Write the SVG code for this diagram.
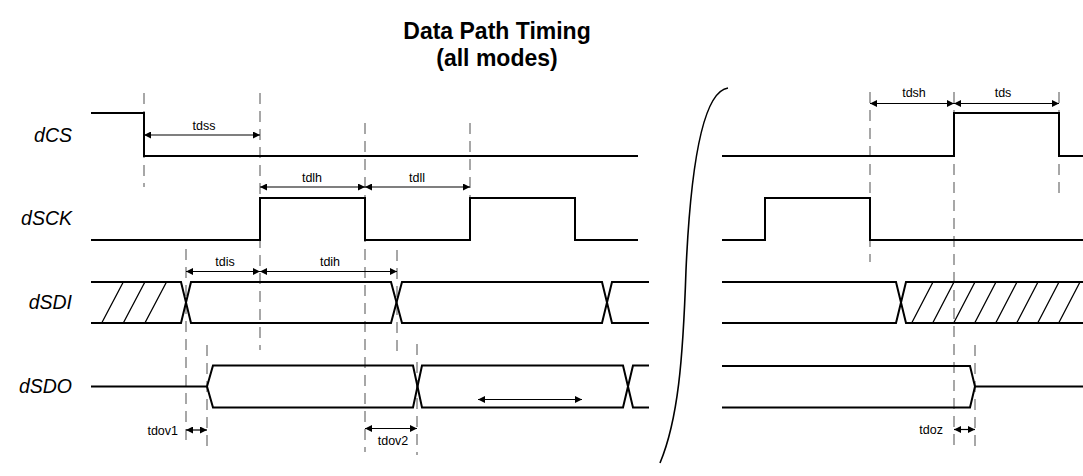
<svg xmlns="http://www.w3.org/2000/svg" width="1083" height="476" viewBox="0 0 1083 476">
<style>
.sig{fill:none;stroke:#000;stroke-width:2;stroke-linejoin:miter}
.hat{fill:none;stroke:#000;stroke-width:1.3}
.dash{fill:none;stroke:#8a8a8a;stroke-width:1.5;stroke-dasharray:11 7}
.arr{fill:none;stroke:#000;stroke-width:1.2;marker-start:url(#ah);marker-end:url(#ah)}
.name{font-family:"Liberation Sans",Arial,sans-serif;font-style:italic;font-size:19.5px;fill:#000;text-anchor:end}
.lab{font-family:"Liberation Sans",Arial,sans-serif;font-size:12.5px;fill:#000;text-anchor:middle}
.title{font-family:"Liberation Sans",Arial,sans-serif;font-weight:bold;font-size:23px;fill:#000;text-anchor:middle}
</style>
<defs>
<marker id="ah" viewBox="0 0 10 10" refX="10" refY="5" markerWidth="7" markerHeight="7" markerUnits="userSpaceOnUse" orient="auto-start-reverse">
<path d="M0,0 L10,5 L0,10 Z" fill="#000"/>
</marker>
</defs>
<rect width="1083" height="476" fill="#fff"/>
<g id="title">
<text class="title" x="497" y="39">Data Path Timing</text>
<text class="title" x="497" y="66">(all modes)</text>
</g>
<g id="names">
<text class="name" x="72" y="142">dCS</text>
<text class="name" x="72" y="225">dSCK</text>
<text class="name" x="72" y="309">dSDI</text>
<text class="name" x="72" y="393">dSDO</text>
</g>
<g id="guides">
<line class="dash" x1="144" y1="93" x2="144" y2="187"/>
<line class="dash" x1="260" y1="93" x2="260" y2="350"/>
<line class="dash" x1="186" y1="249" x2="186" y2="443"/>
<line class="dash" x1="207" y1="345" x2="207" y2="452"/>
<line class="dash" x1="365" y1="123" x2="365" y2="452"/>
<line class="dash" x1="397" y1="250" x2="397" y2="357"/>
<line class="dash" x1="417" y1="344" x2="417" y2="455"/>
<line class="dash" x1="470" y1="123" x2="470" y2="240"/>
<line class="dash" x1="870" y1="92" x2="870" y2="262"/>
<line class="dash" x1="954" y1="92" x2="954" y2="450"/>
<line class="dash" x1="1059" y1="92" x2="1059" y2="198"/>
<line class="dash" x1="975" y1="345" x2="975" y2="452"/>
</g>
<g id="dCS">
<path class="sig" d="M91,113 H144 V156 H638"/>
<path class="sig" d="M722,156 H954 V113 H1059 V156 H1083"/>
</g>
<g id="dSCK">
<path class="sig" d="M91,240 H260 V198 H365 V240 H470 V198 H575 V240 H638"/>
<path class="sig" d="M722,240 H765 V198 H870 V240 H1083"/>
</g>
<g id="dSDI">
<path class="sig" d="M91,282 H181 L191,323 H391 L402,282 H602 L612,323 H649"/>
<path class="sig" d="M91,323 H181 L191,282 H391 L402,323 H602 L612,282 H649"/>
<path class="hat" d="M101.7,323 L123.3,282 M123.3,323 L144.9,282 M144.9,323 L166.5,282"/>
<path class="sig" d="M722,282 H896 L906,323 H1083"/>
<path class="sig" d="M722,323 H896 L906,282 H1083"/>
<path class="hat" d="M911.7,323 L933,282 M932.7,323 L954,282 M953.7,323 L975,282 M974.7,323 L996,282 M995.7,323 L1017,282 M1016.7,323 L1038,282 M1037.7,323 L1059,282 M1058.7,323 L1080,282"/>
</g>
<g id="dSDO">
<path class="sig" d="M91,386.5 H207 L213,365.5 H413 L422,407.5 H623 L633,365.5 H649"/>
<path class="sig" d="M207,386.5 L213,407.5 H413 L422,365.5 H623 L633,407.5 H649"/>
<path class="sig" d="M722,366 H970 L975,386.5 L970,407.5 H722"/>
<path class="sig" d="M975,386.5 H1083"/>
</g>
<g id="break">
<path class="sig" style="stroke-width:1.6" d="M728,88 C700,92 690,180 686,270 C683,360 678,420 660,463"/>
</g>
<g id="connectors">
<line class="arr" x1="144" y1="135" x2="260" y2="135"/>
<line class="arr" x1="260" y1="187" x2="365" y2="187"/>
<line class="arr" x1="365" y1="187" x2="470" y2="187"/>
<line class="arr" x1="186" y1="271.5" x2="260" y2="271.5"/>
<line class="arr" x1="260" y1="271.5" x2="397" y2="271.5"/>
<line class="arr" x1="478" y1="399.5" x2="582" y2="399.5"/>
<line class="arr" x1="186" y1="430" x2="207" y2="430"/>
<line class="arr" x1="365" y1="428.5" x2="417" y2="428.5"/>
<line class="arr" x1="870" y1="103.5" x2="954" y2="103.5"/>
<line class="arr" x1="954" y1="103.5" x2="1059" y2="103.5"/>
<line class="arr" x1="954" y1="429.5" x2="975" y2="429.5"/>
</g>
<g id="labels">
<text class="lab" x="204" y="130">tdss</text>
<text class="lab" x="312" y="182">tdlh</text>
<text class="lab" x="417" y="182">tdll</text>
<text class="lab" x="225" y="266">tdis</text>
<text class="lab" x="330" y="266">tdih</text>
<text class="lab" x="914" y="97">tdsh</text>
<text class="lab" x="1003" y="97">tds</text>
<text class="lab" x="393" y="445">tdov2</text>
<text class="lab" style="text-anchor:end" x="178" y="435">tdov1</text>
<text class="lab" style="text-anchor:end" x="943" y="434">tdoz</text>
</g>
</svg>
